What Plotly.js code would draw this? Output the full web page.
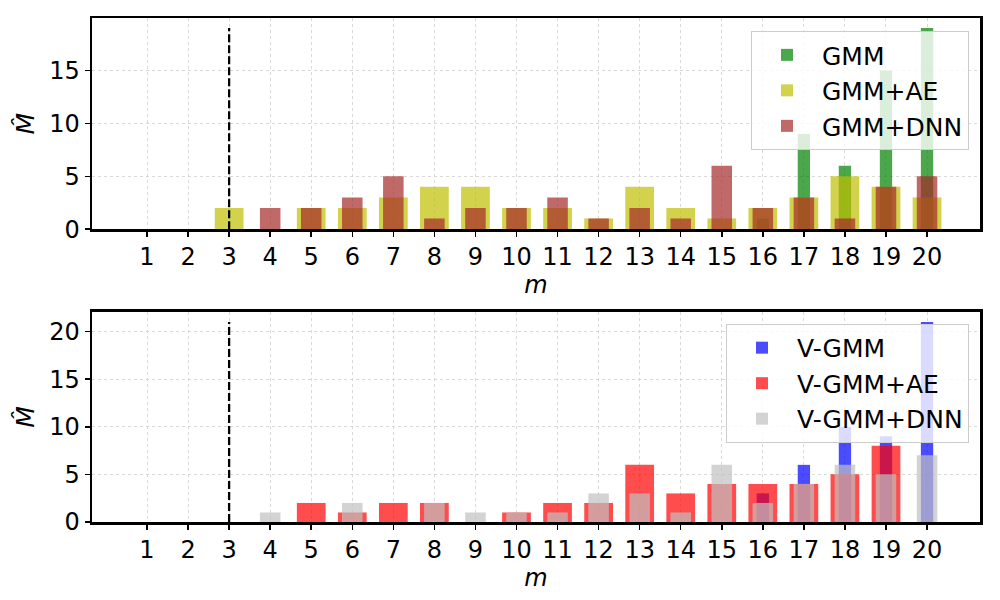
<!DOCTYPE html>
<html>
<head>
<meta charset="utf-8">
<script src="https://cdn.plot.ly/plotly-3.0.1.min.js"></script>
<style>html,body{margin:0;padding:0;background:#fff;}#chart{width:1000px;height:600px;}</style>
</head>
<body>
<div id="chart"></div>
<script>
const m = [1,2,3,4,5,6,7,8,9,10,11,12,13,14,15,16,17,18,19,20];
const gmm     = [0,0,0,0,0,0,0,0,0,0,0,0,0,0,0,1,9,6,15,19];
const gmmAE   = [0,0,2,0,2,2,3,4,4,2,2,1,4,2,1,2,3,5,4,3];
const gmmDNN  = [0,0,0,2,2,3,5,1,2,2,3,1,2,1,6,2,3,1,4,5];
const vgmm    = [0,0,0,0,0,0,0,0,0,0,0,0,0,0,0,3,6,10,9,21];
const vgmmAE  = [0,0,0,0,2,1,2,2,0,1,2,2,6,3,4,4,4,5,8,0];
const vgmmDNN = [0,0,0,1,0,2,0,2,1,1,1,3,3,1,6,2,4,6,5,7];
const threshold = 3;
const namesTop = ['GMM','GMM+AE','GMM+DNN'];
const namesBot = ['V-GMM','V-GMM+AE','V-GMM+DNN'];

const FONT = 'DejaVu Sans, sans-serif';
function bar(y, name, color, width, xa, ya, leg) {
  return {type:'bar', x:m, y:y, name:name, width:width, xaxis:xa, yaxis:ya, legend:leg,
          marker:{color:color, line:{width:0}}, hoverinfo:'x+y+name'};
}
const topMax = Math.max(...gmm, ...gmmAE, ...gmmDNN);
const botMax = Math.max(...vgmm, ...vgmmAE, ...vgmmDNN);
const dashLine = {color:'black', width:2.3, dash:'8px,3px'};
const data = [
  bar(gmm, namesTop[0], 'rgba(0,128,0,0.7)', 0.3, 'x', 'y', 'legend'),
  bar(gmmAE, namesTop[1], 'rgba(191,191,0,0.7)', 0.7, 'x', 'y', 'legend'),
  bar(gmmDNN, namesTop[2], 'rgba(165,42,42,0.7)', 0.5, 'x', 'y', 'legend'),
  {type:'scatter', mode:'lines', x:[threshold, threshold], y:[0, topMax], xaxis:'x', yaxis:'y',
   line:dashLine, showlegend:false, hoverinfo:'skip'},
  bar(vgmm, namesBot[0], 'rgba(0,0,255,0.7)', 0.3, 'x2', 'y2', 'legend2'),
  bar(vgmmAE, namesBot[1], 'rgba(255,0,0,0.7)', 0.7, 'x2', 'y2', 'legend2'),
  bar(vgmmDNN, namesBot[2], 'rgba(192,192,192,0.7)', 0.5, 'x2', 'y2', 'legend2'),
  {type:'scatter', mode:'lines', x:[threshold, threshold], y:[0, botMax], xaxis:'x2', yaxis:'y2',
   line:dashLine, showlegend:false, hoverinfo:'skip'}
];

const axBase = {
  showline:true, mirror:true, linecolor:'black', linewidth:2.5,
  ticks:'outside', ticklen:5, tickwidth:1.5, tickcolor:'black',
  showgrid:true, gridcolor:'#d0d0d0', griddash:'dot', gridwidth:0.8,
  zeroline:false, tickfont:{family:FONT, size:24, color:'black'}
};
function xax(anchor) {
  return Object.assign({}, axBase, {
    anchor:anchor, range:[-0.34, 21.29], tickvals:m, ticktext:m.map(String),
    title:{text:'<i>m</i>', font:{family:FONT, size:24, color:'black'}, standoff:2}
  });
}
function yax(anchor, domain, range) {
  return Object.assign({}, axBase, {
    anchor:anchor, domain:domain, range:range, tickvals:[0,5,10,15,20],
    title:{text:'<i>M\u0302</i>', font:{family:FONT, size:25, color:'black'}, standoff:8}
  });
}
const legBase = {
  bgcolor:'rgba(255,255,255,0.8)', bordercolor:'#cccccc', borderwidth:1,
  font:{family:FONT, size:25, color:'black'}, xanchor:'right', yanchor:'top',
  x:0.9876, traceorder:'normal', itemwidth:60
};
const layout = {
  width:1000, height:600, paper_bgcolor:'white', plot_bgcolor:'white',
  margin:{l:92, r:20, t:18, b:78},
  barmode:'overlay', showlegend:true,
  font:{family:FONT, color:'black'},
  xaxis: xax('y'),
  yaxis: yax('x', [0.581, 1], [0, 19.95]),
  xaxis2: xax('y2'),
  yaxis2: yax('x2', [0, 0.4167], [0, 22.05]),
  legend: Object.assign({}, legBase, {y:0.974}),
  legend2: Object.assign({}, legBase, {y:0.393})
};
Plotly.newPlot('chart', data, layout, {displayModeBar:false, staticPlot:true});
</script>
</body>
</html>
